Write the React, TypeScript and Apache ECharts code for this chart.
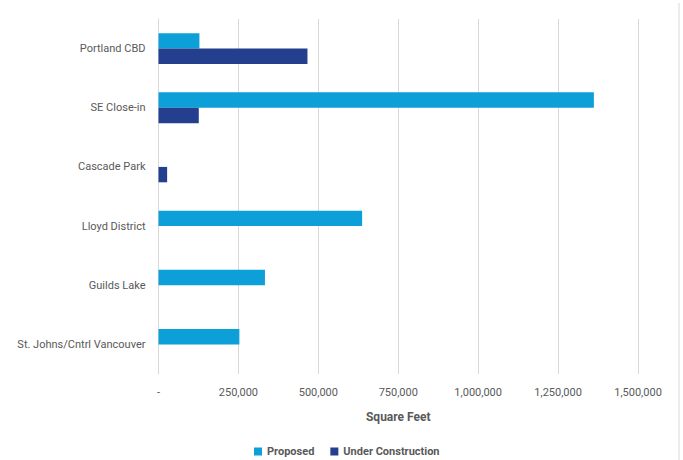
import React, { useEffect, useRef } from "react";
import * as echarts from "echarts";

const categories = [
  "Portland CBD",
  "SE Close-in",
  "Cascade Park",
  "Lloyd District",
  "Guilds Lake",
  "St. Johns/Cntrl Vancouver",
];
const proposed = [128000, 1362000, 0, 637000, 333000, 253000];
const underConstruction = [466000, 126000, 27000, 0, 0, 0];
const seriesNames = ["Proposed", "Under Construction"];
const colors = ["#0C9FD8", "#243F8E"];

export default function App() {
  const ref = useRef<HTMLDivElement>(null);
  useEffect(() => {
    if (!ref.current) return;
    const chart = echarts.init(ref.current, null, { renderer: "svg" });
    const font = "Roboto";
    const textColor = "#595959";
    chart.setOption({
      animation: false,
      textStyle: { fontFamily: font },
      grid: { left: 158.5, right: 45, top: 19, bottom: 86, containLabel: false },
      legend: {
        top: 441,
        left: 249,
        itemWidth: 8,
        itemHeight: 8,
        itemGap: 16,
        icon: "rect",
        textStyle: { color: textColor, fontSize: 11, fontWeight: "bold", fontFamily: font },
        data: seriesNames,
      },
      xAxis: {
        type: "value",
        min: 0,
        max: 1500000,
        interval: 250000,
        name: "Square Feet",
        nameLocation: "middle",
        nameGap: 37,
        nameTextStyle: { color: textColor, fontSize: 12, fontWeight: "bold", fontFamily: font },
        axisLine: { show: false },
        axisTick: { show: false },
        splitLine: { show: true, lineStyle: { color: "#D9D9D9", width: 1 } },
        axisLabel: {
          color: textColor,
          fontSize: 11,
          margin: 13,
          fontFamily: font,
          formatter: (v: number) => (v === 0 ? "-" : v.toLocaleString("en-US")),
        },
      },
      yAxis: {
        type: "category",
        inverse: true,
        data: categories,
        axisLine: { show: true, lineStyle: { color: "#D9D9D9" } },
        axisTick: { show: false },
        axisLabel: { color: textColor, fontSize: 11, margin: 13, fontFamily: font },
      },
      graphic: [
        {
          type: "line",
          shape: { x1: 679, y1: 3, x2: 679, y2: 460 },
          style: { stroke: "#D9D9D9", lineWidth: 1 },
        },
      ],
      series: [
        {
          name: seriesNames[0],
          type: "bar",
          data: proposed,
          itemStyle: { color: colors[0] },
          barGap: "0%",
          barCategoryGap: "48%",
        },
        {
          name: seriesNames[1],
          type: "bar",
          data: underConstruction,
          itemStyle: { color: colors[1] },
          barGap: "0%",
          barCategoryGap: "48%",
        },
      ],
    });
    return () => chart.dispose();
  }, []);
  return (
    <div
      ref={ref}
      style={{ position: "fixed", left: 0, top: 0, width: 683, height: 460, background: "#fff" }}
    />
  );
}
